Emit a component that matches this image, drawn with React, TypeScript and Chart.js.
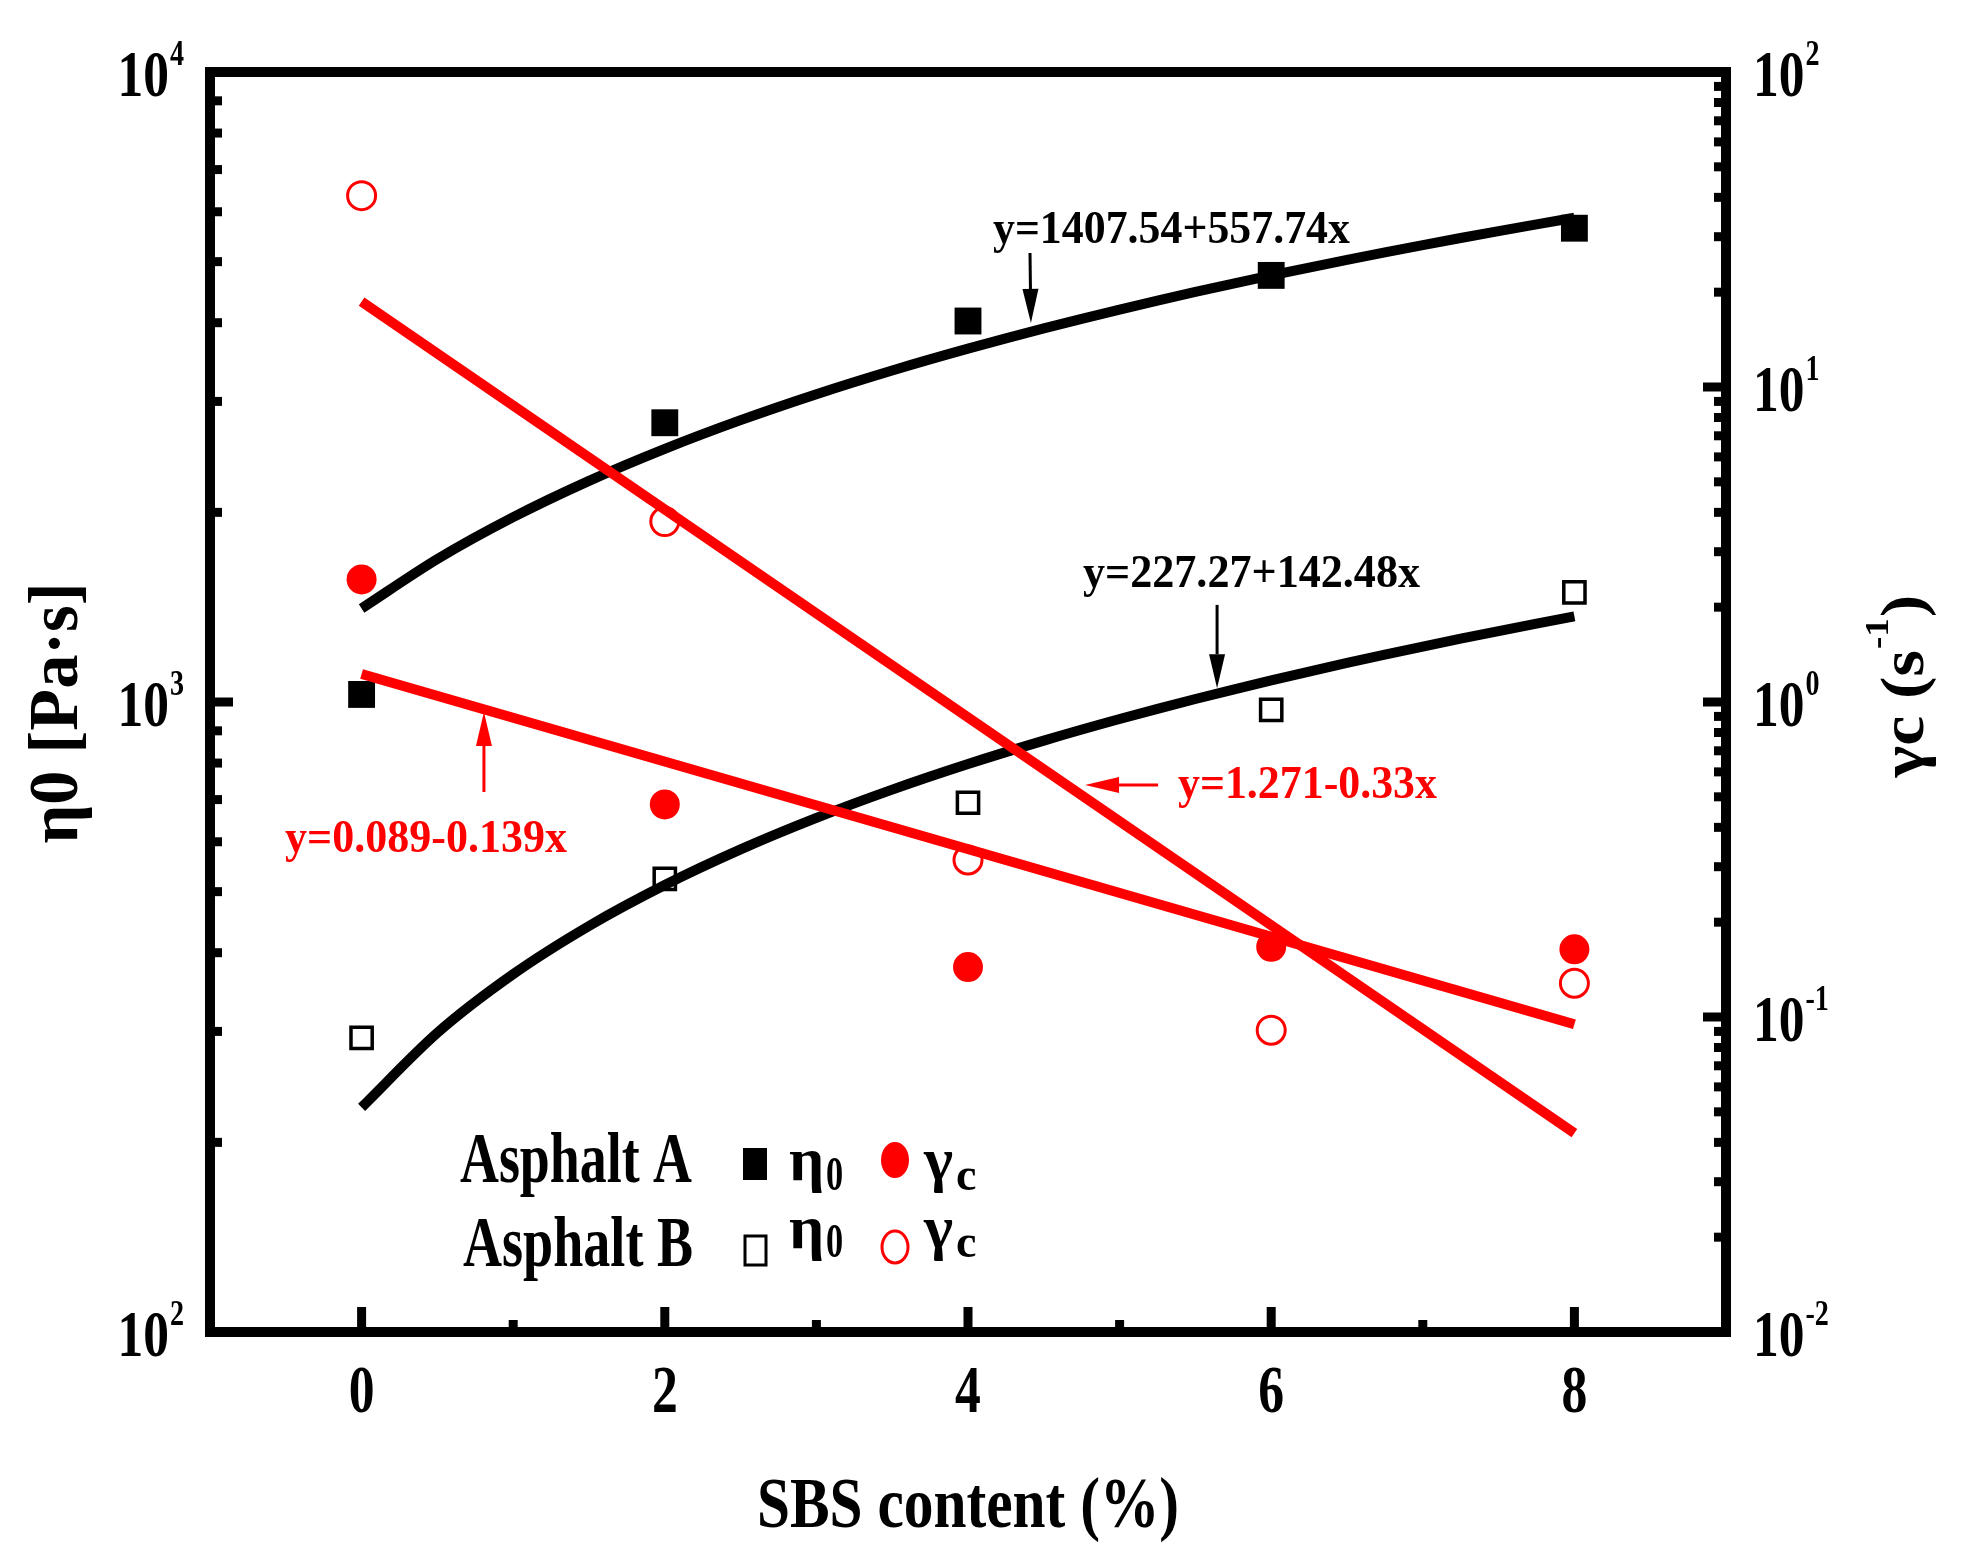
import { useEffect, useRef } from "react";
import { Chart, registerables } from "chart.js";

Chart.register(...registerables);

// measured points
const sbsContent = [0, 2, 4, 6, 8];
const eta0A = [1028, 2775, 4025, 4755, 5650];
const eta0B = [293, 524, 692, 972, 1493];
const gammaA = [2.45, 0.473, 0.144, 0.167, 0.164];
const gammaB = [40.5, 3.74, 0.315, 0.0908, 0.128];

// fitted curves as printed on the figure
const fitX = [0, 0.5, 1, 1.5, 2, 2.5, 3, 3.5, 4, 4.5, 5, 5.5, 6, 6.5, 7, 7.5, 8];
const fitEtaA = [1407.5, 1686.4, 1965.3, 2244.2, 2523.0, 2801.9, 3080.8, 3359.6, 3638.5, 3917.4, 4196.2, 4475.1, 4754.0, 5032.9, 5311.7, 5590.6, 5869.5];
const fitEtaB = [227.3, 298.5, 369.8, 441.0, 512.2, 583.5, 654.7, 726.0, 797.2, 868.4, 939.7, 1010.9, 1082.2, 1153.4, 1224.6, 1295.9, 1367.1];
const fitLineX = [0, 8];
const fitGammaA = [1.227, 0.0948];
const fitGammaB = [18.66, 0.0428];
const fitLabels = ["y=1407.54+557.74x", "y=227.27+142.48x", "y=1.271-0.33x", "y=0.089-0.139x"];

const xTicks = [0, 2, 4, 6, 8];
const leftExps = [2, 3, 4];
const rightExps = [-2, -1, 0, 1, 2];

const RED = "#ff0000";
const SERIF = '"Liberation Serif", "Times New Roman", serif';

const pts = (xs: number[], ys: number[]) => xs.map((x, i) => ({ x, y: ys[i] }));

function txt(ctx: CanvasRenderingContext2D, s: string, x: number, y: number, size: number, sx: number, align: CanvasTextAlign = "left", color = "#000") {
  ctx.save();
  ctx.font = `bold ${size}px ${SERIF}`;
  ctx.fillStyle = color;
  ctx.textAlign = align;
  ctx.textBaseline = "alphabetic";
  ctx.translate(x, y);
  ctx.scale(sx, 1);
  ctx.fillText(s, 0, 0);
  ctx.restore();
}

function fitSx(ctx: CanvasRenderingContext2D, s: string, size: number, width: number) {
  ctx.font = `bold ${size}px ${SERIF}`;
  return width / ctx.measureText(s).width;
}

function measure(ctx: CanvasRenderingContext2D, s: string, size: number) {
  ctx.font = `bold ${size}px ${SERIF}`;
  return ctx.measureText(s).width;
}

function arrow(ctx: CanvasRenderingContext2D, x0: number, y0: number, x1: number, y1: number, color: string) {
  const ang = Math.atan2(y1 - y0, x1 - x0);
  const head = 34, half = 8;
  const bx = x1 - head * Math.cos(ang), by = y1 - head * Math.sin(ang);
  ctx.save();
  ctx.strokeStyle = color;
  ctx.fillStyle = color;
  ctx.lineWidth = 3;
  ctx.beginPath();
  ctx.moveTo(x0, y0);
  ctx.lineTo(bx, by);
  ctx.stroke();
  ctx.beginPath();
  ctx.moveTo(x1, y1);
  ctx.lineTo(bx + half * Math.sin(ang), by - half * Math.cos(ang));
  ctx.lineTo(bx - half * Math.sin(ang), by + half * Math.cos(ang));
  ctx.closePath();
  ctx.fill();
  ctx.restore();
}

const notes = [
  { text: fitLabels[0], axis: "y", color: "#000", tx: 5.342, ty: 5354, align: "center" as CanvasTextAlign, width: 357, from: [4.409, 5161], to: [4.415, 3997] },
  { text: fitLabels[1], axis: "y", color: "#000", tx: 5.87, ty: 1522, align: "center" as CanvasTextAlign, width: 337, from: [5.643, 1426], to: [5.643, 1052] },
  { text: fitLabels[2], axis: "y1", color: RED, tx: 5.385, ty: 0.4956, align: "left" as CanvasTextAlign, width: 259, from: [5.254, 0.545], to: [4.772, 0.545] },
  { text: fitLabels[3], axis: "y1", color: RED, tx: 0.425, ty: 0.334, align: "center" as CanvasTextAlign, width: 282, from: [0.807, 0.518], to: [0.807, 0.93] },
];

const overlay = {
  id: "overlay",
  afterDraw(chart: Chart) {
    const { ctx, chartArea: a } = chart;
    const sx = chart.scales.x, yl = chart.scales.y, yr = chart.scales.y1;
    ctx.save();

    // frame
    ctx.strokeStyle = "#000";
    ctx.lineWidth = 10;
    ctx.strokeRect(a.left, a.top, a.right - a.left, a.bottom - a.top);

    // inward ticks
    ctx.lineWidth = 9;
    const hTick = (px: number, py: number, dir: number, len: number) => {
      ctx.beginPath();
      ctx.moveTo(px, py);
      ctx.lineTo(px + dir * (5 + len), py);
      ctx.stroke();
    };
    for (let e = 2; e <= 4; e++) {
      for (let m = 1; m <= 9; m++) {
        const v = m * Math.pow(10, e);
        if (v > 10000) break;
        hTick(a.left, yl.getPixelForValue(v), 1, m === 1 ? 18 : 7);
      }
    }
    for (let e = -2; e <= 2; e++) {
      for (let m = 1; m <= 9; m++) {
        const v = m * Math.pow(10, e);
        if (v > 100) break;
        hTick(a.right, yr.getPixelForValue(v), -1, m === 1 ? 18 : 7);
      }
    }
    for (let v = 0; v <= 8; v++) {
      const px = sx.getPixelForValue(v);
      ctx.beginPath();
      ctx.moveTo(px, a.bottom);
      ctx.lineTo(px, a.bottom - 5 - (v % 2 === 0 ? 20 : 7));
      ctx.stroke();
    }

    // tick labels
    const k = 0.78;
    const pow = (exp: string, px: number, py: number, align: "left" | "right") => {
      const bw = measure(ctx, "10", 66) * k;
      const ew = measure(ctx, exp, 36) * k;
      const start = align === "right" ? px - bw - ew - 1 : px;
      txt(ctx, "10", start, py + 24, 66, k);
      txt(ctx, exp, start + bw + 1, py - 7, 36, k);
    };
    leftExps.forEach((e) => pow(String(e), 184, yl.getPixelForValue(Math.pow(10, e)), "right"));
    rightExps.forEach((e) => pow(String(e), 1753, yr.getPixelForValue(Math.pow(10, e)), "left"));
    xTicks.forEach((v) => txt(ctx, String(v), sx.getPixelForValue(v), 1412, 68, 0.76, "center"));

    // axis titles
    const xt = "SBS content (%)";
    txt(ctx, xt, (a.left + a.right) / 2, 1527, 71, fitSx(ctx, xt, 71, 422), "center");

    ctx.save();
    ctx.translate(77, 713);
    ctx.rotate(-Math.PI / 2);
    const lt = "η0 [Pa·s]";
    txt(ctx, lt, 0, 0, 70, fitSx(ctx, lt, 70, 261), "center");
    ctx.restore();

    ctx.save();
    ctx.translate(1923, 686);
    ctx.rotate(-Math.PI / 2);
    const segA = "γc (s", segB = "-1", segC = ")";
    const raw = measure(ctx, segA, 62) + measure(ctx, segB, 34) + measure(ctx, segC, 62) + 2;
    const r = 183 / raw;
    let cx = -91.5;
    txt(ctx, segA, cx, 0, 62, r);
    cx += measure(ctx, segA, 62) * r + 1;
    txt(ctx, segB, cx, -35, 34, r);
    cx += measure(ctx, segB, 34) * r + 1;
    txt(ctx, segC, cx, 0, 62, r);
    ctx.restore();

    // fit annotations
    notes.forEach((n) => {
      const ys = n.axis === "y" ? yl : yr;
      txt(ctx, n.text, sx.getPixelForValue(n.tx), ys.getPixelForValue(n.ty), 46, fitSx(ctx, n.text, 46, n.width), n.align, n.color);
      arrow(ctx, sx.getPixelForValue(n.from[0]), ys.getPixelForValue(n.from[1]), sx.getPixelForValue(n.to[0]), ys.getPixelForValue(n.to[1]), n.color);
    });

    // legend
    txt(ctx, "Asphalt A", 460, 1182, 72, fitSx(ctx, "Asphalt A", 72, 232));
    txt(ctx, "Asphalt B", 463, 1266, 72, fitSx(ctx, "Asphalt B", 72, 230));
    ctx.fillStyle = "#000";
    ctx.fillRect(743, 1148, 24, 32);
    ctx.lineWidth = 3;
    ctx.strokeStyle = "#000";
    ctx.strokeRect(745, 1236, 21, 29);
    [[1180, 1190], [1248, 1257]].forEach(([b, s]) => {
      txt(ctx, "η", 789, b, 62, 1);
      txt(ctx, "0", 826, s, 49, 0.7);
      txt(ctx, "γ", 924, b, 62, 1);
      txt(ctx, "c", 956, s, 46, 1);
    });
    ctx.fillStyle = RED;
    ctx.beginPath();
    ctx.ellipse(895, 1160, 14, 18, 0, 0, Math.PI * 2);
    ctx.fill();
    ctx.strokeStyle = RED;
    ctx.lineWidth = 3;
    ctx.beginPath();
    ctx.ellipse(895, 1247, 13, 16, 0, 0, Math.PI * 2);
    ctx.stroke();

    ctx.restore();
  },
};

export default function App() {
  const canvasRef = useRef<HTMLCanvasElement>(null);
  const chartRef = useRef<Chart | null>(null);

  useEffect(() => {
    if (!canvasRef.current) return;
    if (chartRef.current) chartRef.current.destroy();

    chartRef.current = new Chart(canvasRef.current, {
      type: "scatter",
      data: {
        datasets: [
          { label: "fit γc B", data: pts(fitLineX, fitGammaB), yAxisID: "y1", showLine: true, pointRadius: 0, borderColor: RED, borderWidth: 10 },
          { label: "fit γc A", data: pts(fitLineX, fitGammaA), yAxisID: "y1", showLine: true, pointRadius: 0, borderColor: RED, borderWidth: 10 },
          { label: "fit η0 A", data: pts(fitX, fitEtaA), yAxisID: "y", showLine: true, pointRadius: 0, borderColor: "#000", borderWidth: 10, tension: 0.3 },
          { label: "fit η0 B", data: pts(fitX, fitEtaB), yAxisID: "y", showLine: true, pointRadius: 0, borderColor: "#000", borderWidth: 10, tension: 0.3 },
          { label: "A η0", data: pts(sbsContent, eta0A), yAxisID: "y", pointStyle: "rect", pointRadius: 19, backgroundColor: "#000", borderColor: "#000", borderWidth: 0 },
          { label: "B η0", data: pts(sbsContent, eta0B), yAxisID: "y", pointStyle: "rect", pointRadius: 15, backgroundColor: "rgba(0,0,0,0)", borderColor: "#000", borderWidth: 3.5 },
          { label: "A γc", data: pts(sbsContent, gammaA), yAxisID: "y1", pointStyle: "circle", pointRadius: 15, backgroundColor: RED, borderColor: RED, borderWidth: 0 },
          { label: "B γc", data: pts(sbsContent, gammaB), yAxisID: "y1", pointStyle: "circle", pointRadius: 14, backgroundColor: "rgba(0,0,0,0)", borderColor: RED, borderWidth: 3 },
        ],
      },
      options: {
        responsive: true,
        maintainAspectRatio: false,
        animation: false,
        events: [],
        layout: { padding: { left: 210, top: 72, right: 248, bottom: 236 } },
        plugins: { legend: { display: false }, tooltip: { enabled: false } },
        scales: {
          x: { type: "linear", min: -1, max: 9, display: false },
          y: { type: "logarithmic", min: 100, max: 10000, display: false },
          y1: { type: "logarithmic", min: 0.01, max: 100, display: false },
        },
      },
      plugins: [overlay],
    });

    return () => {
      if (chartRef.current) {
        chartRef.current.destroy();
        chartRef.current = null;
      }
    };
  }, []);

  return (
    <div style={{ position: "fixed", left: 0, top: 0, width: "1974px", height: "1568px", background: "#fff" }}>
      <canvas ref={canvasRef} />
    </div>
  );
}
